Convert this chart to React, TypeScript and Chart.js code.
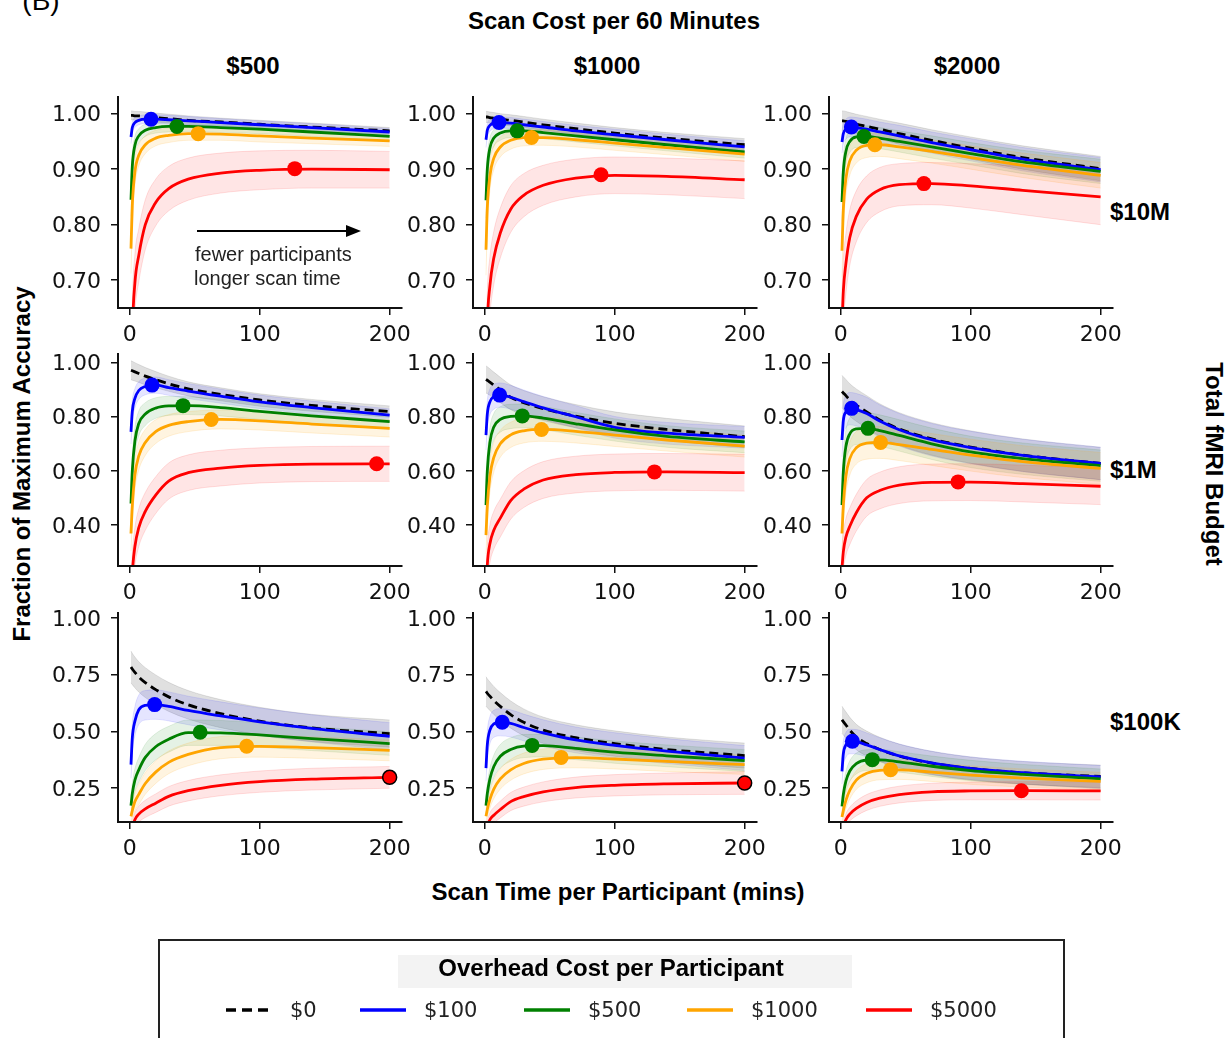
import React, { useEffect, useRef } from "react";
import { Chart, registerables } from "chart.js";

Chart.register(...registerables);

// ---------------- data ----------------
const SCAN_TIMES = [1, 2, 4, 7, 12, 20, 30, 45, 70, 100, 140, 200];
const X_TICKS = [0, 100, 200];
const SCAN_COSTS = ["$500", "$1000", "$2000"];
const BUDGETS = ["$10M", "$1M", "$100K"];
const OVERHEADS = ["$0", "$100", "$500", "$1000", "$5000"];
const Y_TICKS_10M = [0.7, 0.8, 0.9, 1.0];
const Y_TICKS_1M = [0.4, 0.6, 0.8, 1.0];
const Y_TICKS_100K = [0.25, 0.5, 0.75, 1.0];

// rows of each table: overhead $0, $100, $500, $1000, $5000 (values at SCAN_TIMES)
const ACC_10M_500 = [
  [0.997, 0.997, 0.996, 0.996, 0.995, 0.993, 0.991, 0.988, 0.985, 0.981, 0.976, 0.969],
  [0.958, 0.975, 0.984, 0.988, 0.990, 0.990, 0.989, 0.987, 0.984, 0.980, 0.975, 0.967],
  [0.845, 0.905, 0.943, 0.960, 0.970, 0.975, 0.977, 0.977, 0.975, 0.972, 0.967, 0.959],
  [0.757, 0.835, 0.895, 0.925, 0.944, 0.956, 0.961, 0.964, 0.963, 0.960, 0.956, 0.951],
  [0.450, 0.600, 0.695, 0.745, 0.800, 0.840, 0.865, 0.882, 0.893, 0.898, 0.900, 0.899],
];
const ACC_10M_1000 = [
  [0.994, 0.994, 0.993, 0.992, 0.990, 0.988, 0.985, 0.980, 0.973, 0.965, 0.956, 0.944],
  [0.953, 0.970, 0.979, 0.983, 0.984, 0.983, 0.980, 0.976, 0.969, 0.962, 0.953, 0.940],
  [0.844, 0.900, 0.938, 0.956, 0.965, 0.969, 0.969, 0.966, 0.960, 0.953, 0.944, 0.931],
  [0.755, 0.830, 0.888, 0.920, 0.940, 0.952, 0.957, 0.957, 0.953, 0.947, 0.939, 0.927],
  [0.500, 0.620, 0.690, 0.740, 0.785, 0.828, 0.853, 0.871, 0.884, 0.889, 0.887, 0.881],
];
const ACC_10M_2000 = [
  [0.987, 0.987, 0.986, 0.984, 0.981, 0.977, 0.972, 0.964, 0.952, 0.938, 0.921, 0.901],
  [0.949, 0.964, 0.972, 0.976, 0.975, 0.972, 0.967, 0.960, 0.948, 0.935, 0.918, 0.899],
  [0.841, 0.895, 0.932, 0.950, 0.958, 0.959, 0.956, 0.950, 0.940, 0.928, 0.913, 0.896],
  [0.753, 0.826, 0.883, 0.915, 0.934, 0.943, 0.944, 0.940, 0.932, 0.921, 0.907, 0.889],
  [0.620, 0.680, 0.730, 0.777, 0.815, 0.846, 0.863, 0.872, 0.874, 0.870, 0.862, 0.850],
];
const ACC_1M_500 = [
  [0.972, 0.970, 0.966, 0.960, 0.950, 0.937, 0.922, 0.903, 0.883, 0.862, 0.842, 0.819],
  [0.744, 0.820, 0.868, 0.897, 0.912, 0.917, 0.908, 0.895, 0.876, 0.855, 0.834, 0.806],
  [0.479, 0.600, 0.710, 0.775, 0.810, 0.832, 0.840, 0.841, 0.834, 0.820, 0.803, 0.782],
  [0.368, 0.470, 0.585, 0.655, 0.705, 0.745, 0.768, 0.782, 0.790, 0.785, 0.773, 0.757],
  [0.100, 0.220, 0.320, 0.390, 0.450, 0.510, 0.562, 0.593, 0.610, 0.620, 0.625, 0.626],
];
const ACC_1M_1000 = [
  [0.938, 0.935, 0.928, 0.917, 0.899, 0.872, 0.852, 0.830, 0.802, 0.776, 0.753, 0.726],
  [0.732, 0.810, 0.855, 0.874, 0.880, 0.872, 0.856, 0.833, 0.800, 0.761, 0.739, 0.724],
  [0.473, 0.600, 0.705, 0.762, 0.790, 0.801, 0.803, 0.795, 0.774, 0.751, 0.727, 0.707],
  [0.362, 0.470, 0.580, 0.650, 0.700, 0.733, 0.748, 0.753, 0.746, 0.732, 0.714, 0.691],
  [0.120, 0.250, 0.330, 0.380, 0.425, 0.490, 0.532, 0.566, 0.586, 0.594, 0.596, 0.593],
];
const ACC_1M_2000 = [
  [0.893, 0.888, 0.878, 0.862, 0.843, 0.818, 0.788, 0.755, 0.718, 0.688, 0.658, 0.627],
  [0.714, 0.785, 0.818, 0.830, 0.826, 0.812, 0.784, 0.752, 0.715, 0.686, 0.657, 0.627],
  [0.473, 0.595, 0.690, 0.737, 0.755, 0.757, 0.749, 0.731, 0.700, 0.670, 0.645, 0.619],
  [0.368, 0.470, 0.580, 0.645, 0.685, 0.702, 0.705, 0.697, 0.679, 0.658, 0.634, 0.609],
  [0.240, 0.300, 0.355, 0.395, 0.445, 0.500, 0.527, 0.547, 0.557, 0.558, 0.553, 0.543],
];
const ACC_100K_500 = [
  [0.784, 0.775, 0.760, 0.740, 0.715, 0.684, 0.652, 0.617, 0.578, 0.545, 0.515, 0.490],
  [0.353, 0.470, 0.545, 0.595, 0.615, 0.618, 0.610, 0.592, 0.568, 0.542, 0.513, 0.478],
  [0.172, 0.225, 0.285, 0.330, 0.385, 0.432, 0.465, 0.494, 0.493, 0.484, 0.468, 0.446],
  [0.125, 0.150, 0.190, 0.222, 0.270, 0.320, 0.363, 0.398, 0.428, 0.434, 0.428, 0.416],
  [0.020, 0.070, 0.110, 0.135, 0.158, 0.183, 0.213, 0.238, 0.262, 0.278, 0.289, 0.297],
];
const ACC_100K_1000 = [
  [0.676, 0.668, 0.655, 0.636, 0.610, 0.574, 0.540, 0.505, 0.472, 0.446, 0.420, 0.393],
  [0.338, 0.440, 0.505, 0.533, 0.540, 0.535, 0.517, 0.493, 0.462, 0.438, 0.413, 0.382],
  [0.172, 0.225, 0.290, 0.345, 0.390, 0.420, 0.435, 0.437, 0.425, 0.408, 0.392, 0.371],
  [0.125, 0.155, 0.200, 0.245, 0.290, 0.330, 0.358, 0.377, 0.384, 0.378, 0.367, 0.353],
  [0.030, 0.075, 0.110, 0.130, 0.155, 0.190, 0.212, 0.233, 0.252, 0.262, 0.268, 0.272],
];
const ACC_100K_2000 = [
  [0.551, 0.543, 0.528, 0.505, 0.475, 0.446, 0.420, 0.391, 0.360, 0.336, 0.317, 0.301],
  [0.323, 0.400, 0.440, 0.455, 0.454, 0.440, 0.420, 0.392, 0.361, 0.337, 0.318, 0.299],
  [0.169, 0.220, 0.280, 0.325, 0.358, 0.373, 0.374, 0.365, 0.346, 0.327, 0.310, 0.290],
  [0.122, 0.150, 0.195, 0.240, 0.285, 0.315, 0.328, 0.330, 0.320, 0.307, 0.294, 0.279],
  [0.030, 0.075, 0.110, 0.135, 0.160, 0.186, 0.205, 0.221, 0.233, 0.237, 0.238, 0.237],
];

// half-widths of the shaded bands (same layout as the ACC tables)
const BAND_10M_500 = [
  [0.008, 0.008, 0.008, 0.008, 0.008, 0.008, 0.008, 0.008, 0.007, 0.007, 0.007, 0.006],
  [0.012, 0.010, 0.009, 0.008, 0.008, 0.008, 0.008, 0.008, 0.007, 0.007, 0.007, 0.006],
  [0.030, 0.022, 0.016, 0.013, 0.011, 0.010, 0.010, 0.009, 0.009, 0.008, 0.008, 0.008],
  [0.045, 0.034, 0.024, 0.019, 0.016, 0.014, 0.013, 0.012, 0.011, 0.011, 0.010, 0.010],
  [0.060, 0.056, 0.052, 0.048, 0.045, 0.042, 0.040, 0.038, 0.036, 0.035, 0.034, 0.033],
];
const BAND_10M_1000 = [
  [0.010, 0.010, 0.010, 0.010, 0.010, 0.010, 0.010, 0.010, 0.010, 0.010, 0.010, 0.011],
  [0.014, 0.012, 0.011, 0.010, 0.010, 0.010, 0.010, 0.010, 0.010, 0.010, 0.010, 0.011],
  [0.032, 0.024, 0.018, 0.015, 0.013, 0.012, 0.012, 0.011, 0.011, 0.011, 0.011, 0.011],
  [0.046, 0.036, 0.026, 0.021, 0.018, 0.016, 0.015, 0.014, 0.013, 0.013, 0.013, 0.013],
  [0.060, 0.056, 0.052, 0.048, 0.045, 0.042, 0.039, 0.036, 0.034, 0.033, 0.033, 0.034],
];
const BAND_10M_2000 = [
  [0.018, 0.018, 0.018, 0.018, 0.018, 0.018, 0.018, 0.019, 0.019, 0.020, 0.021, 0.022],
  [0.020, 0.019, 0.018, 0.018, 0.018, 0.018, 0.018, 0.019, 0.019, 0.020, 0.021, 0.022],
  [0.035, 0.028, 0.022, 0.020, 0.019, 0.019, 0.019, 0.019, 0.020, 0.020, 0.021, 0.022],
  [0.048, 0.038, 0.030, 0.026, 0.023, 0.022, 0.021, 0.021, 0.021, 0.021, 0.022, 0.023],
  [0.062, 0.058, 0.054, 0.050, 0.046, 0.042, 0.040, 0.038, 0.038, 0.040, 0.044, 0.050],
];
const BAND_1M_500 = [
  [0.035, 0.035, 0.034, 0.033, 0.032, 0.030, 0.028, 0.026, 0.024, 0.023, 0.022, 0.021],
  [0.045, 0.040, 0.036, 0.033, 0.031, 0.030, 0.029, 0.028, 0.026, 0.025, 0.024, 0.023],
  [0.060, 0.055, 0.050, 0.046, 0.042, 0.038, 0.035, 0.033, 0.031, 0.030, 0.029, 0.028],
  [0.065, 0.060, 0.055, 0.052, 0.048, 0.044, 0.040, 0.037, 0.035, 0.034, 0.033, 0.032],
  [0.070, 0.070, 0.070, 0.070, 0.070, 0.068, 0.067, 0.066, 0.066, 0.065, 0.065, 0.065],
];
const BAND_1M_1000 = [
  [0.050, 0.050, 0.049, 0.048, 0.047, 0.046, 0.045, 0.044, 0.043, 0.042, 0.041, 0.040],
  [0.055, 0.050, 0.048, 0.046, 0.045, 0.044, 0.043, 0.042, 0.041, 0.040, 0.040, 0.040],
  [0.065, 0.060, 0.055, 0.050, 0.047, 0.045, 0.044, 0.043, 0.042, 0.041, 0.040, 0.040],
  [0.070, 0.065, 0.060, 0.055, 0.050, 0.047, 0.045, 0.044, 0.043, 0.042, 0.041, 0.040],
  [0.070, 0.070, 0.070, 0.070, 0.070, 0.069, 0.068, 0.068, 0.068, 0.068, 0.068, 0.068],
];
const BAND_1M_2000 = [
  [0.060, 0.060, 0.060, 0.060, 0.060, 0.060, 0.060, 0.060, 0.060, 0.060, 0.060, 0.060],
  [0.062, 0.060, 0.060, 0.060, 0.060, 0.060, 0.060, 0.060, 0.060, 0.060, 0.060, 0.060],
  [0.066, 0.063, 0.060, 0.059, 0.058, 0.058, 0.058, 0.058, 0.058, 0.058, 0.058, 0.058],
  [0.068, 0.066, 0.063, 0.061, 0.060, 0.059, 0.059, 0.059, 0.059, 0.059, 0.059, 0.059],
  [0.068, 0.068, 0.068, 0.068, 0.068, 0.068, 0.068, 0.068, 0.068, 0.068, 0.068, 0.068],
];
const BAND_100K_500 = [
  [0.070, 0.069, 0.068, 0.067, 0.066, 0.065, 0.064, 0.063, 0.062, 0.061, 0.060, 0.060],
  [0.060, 0.062, 0.064, 0.065, 0.065, 0.065, 0.064, 0.063, 0.062, 0.061, 0.060, 0.060],
  [0.040, 0.045, 0.050, 0.055, 0.058, 0.058, 0.057, 0.056, 0.055, 0.054, 0.053, 0.052],
  [0.030, 0.035, 0.040, 0.045, 0.048, 0.050, 0.050, 0.050, 0.049, 0.048, 0.047, 0.046],
  [0.020, 0.025, 0.030, 0.035, 0.038, 0.041, 0.043, 0.045, 0.046, 0.047, 0.048, 0.048],
];
const BAND_100K_1000 = [
  [0.065, 0.064, 0.063, 0.062, 0.061, 0.060, 0.059, 0.058, 0.057, 0.056, 0.055, 0.055],
  [0.058, 0.060, 0.060, 0.060, 0.060, 0.060, 0.059, 0.058, 0.057, 0.056, 0.055, 0.055],
  [0.040, 0.044, 0.048, 0.050, 0.052, 0.052, 0.051, 0.050, 0.050, 0.049, 0.048, 0.048],
  [0.030, 0.034, 0.038, 0.042, 0.045, 0.046, 0.046, 0.045, 0.045, 0.044, 0.044, 0.043],
  [0.020, 0.025, 0.030, 0.034, 0.037, 0.040, 0.042, 0.044, 0.046, 0.047, 0.048, 0.050],
];
const BAND_100K_2000 = [
  [0.060, 0.059, 0.058, 0.057, 0.056, 0.055, 0.054, 0.053, 0.052, 0.051, 0.050, 0.050],
  [0.055, 0.055, 0.055, 0.054, 0.054, 0.053, 0.052, 0.052, 0.051, 0.050, 0.050, 0.050],
  [0.035, 0.040, 0.043, 0.045, 0.046, 0.046, 0.046, 0.045, 0.045, 0.045, 0.044, 0.044],
  [0.028, 0.032, 0.036, 0.039, 0.041, 0.042, 0.042, 0.042, 0.041, 0.041, 0.040, 0.040],
  [0.018, 0.022, 0.026, 0.030, 0.033, 0.035, 0.036, 0.037, 0.038, 0.039, 0.040, 0.040],
];

// optimal scan time [minutes, accuracy] for overhead $100, $500, $1000, $5000
const OPT_10M_500 = [[16.4, 0.990], [36.3, 0.977], [52.7, 0.964], [127, 0.901]];
const OPT_10M_1000 = [[11, 0.984], [25, 0.969], [36, 0.957], [89.5, 0.89]];
const OPT_10M_2000 = [[8.2, 0.976], [17.9, 0.959], [26.3, 0.944], [64, 0.874]];
const OPT_1M_500 = [[17.2, 0.917], [41, 0.841], [62.7, 0.79], [190, 0.626]];
const OPT_1M_1000 = [[11.5, 0.88], [28.9, 0.803], [43.7, 0.753], [130.6, 0.596]];
const OPT_1M_2000 = [[8.4, 0.831], [21, 0.757], [30.7, 0.705], [90.3, 0.559]];
const OPT_100K_500 = [[19.2, 0.618], [54.2, 0.496], [90, 0.434], [200, 0.297]];
const OPT_100K_1000 = [[13.5, 0.54], [36.5, 0.438], [58.8, 0.385], [200, 0.272]];
const OPT_100K_2000 = [[9, 0.456], [24.3, 0.375], [38.4, 0.331], [139, 0.238]];

const ACC = [
  [ACC_10M_500, ACC_10M_1000, ACC_10M_2000],
  [ACC_1M_500, ACC_1M_1000, ACC_1M_2000],
  [ACC_100K_500, ACC_100K_1000, ACC_100K_2000],
];
const BAND = [
  [BAND_10M_500, BAND_10M_1000, BAND_10M_2000],
  [BAND_1M_500, BAND_1M_1000, BAND_1M_2000],
  [BAND_100K_500, BAND_100K_1000, BAND_100K_2000],
];
const OPT = [
  [OPT_10M_500, OPT_10M_1000, OPT_10M_2000],
  [OPT_1M_500, OPT_1M_1000, OPT_1M_2000],
  [OPT_100K_500, OPT_100K_1000, OPT_100K_2000],
];
const Y_TICKS = [Y_TICKS_10M, Y_TICKS_1M, Y_TICKS_100K];

// ---------------- layout & style ----------------
const Y_RANGE = [
  [0.65, 1.03],
  [0.248, 1.032],
  [0.1, 1.022],
];
const X_RANGE = [-9, 209.5];
const COL_LEFT = [118, 473, 829];
const ROW_TOP = [97, 354, 613];
const ROW_H = [211, 212, 209];
const PLOT_W = 284;
const PAD_LEFT = 80;
const PAD_TOP = 30;
const PAD_RIGHT = 30;
const X_AXIS_H = 50;

const LINE_COLORS = ["#000000", "#0000ff", "#008000", "#ffa500", "#ff0000"];
const BAND_FILL = [
  "rgba(0,0,0,0.12)",
  "rgba(0,0,255,0.10)",
  "rgba(0,128,0,0.10)",
  "rgba(255,165,0,0.12)",
  "rgba(255,0,0,0.10)",
];
const BAND_EDGE = [
  "rgba(0,0,0,0.10)",
  "rgba(0,0,255,0.10)",
  "rgba(0,128,0,0.10)",
  "rgba(255,165,0,0.14)",
  "rgba(255,0,0,0.12)",
];
const BOLD = '"Liberation Sans", Arial, sans-serif';
const TICK_FONT = "DejaVu Sans";

function Panel({ row, col }: { row: number; col: number }) {
  const ref = useRef<HTMLCanvasElement>(null);
  const w = PAD_LEFT + PLOT_W + PAD_RIGHT;
  const h = PAD_TOP + ROW_H[row] + X_AXIS_H;

  useEffect(() => {
    if (!ref.current) return;
    const acc = ACC[row][col];
    const band = BAND[row][col];
    const opt = OPT[row][col];
    const maxT = SCAN_TIMES[SCAN_TIMES.length - 1];
    const pts = (vals: number[], off: number[] | null, sign: number) =>
      SCAN_TIMES.map((t, i) => ({ x: t, y: vals[i] + (off ? sign * off[i] : 0) }));

    const datasets: any[] = [];
    acc.forEach((vals, s) => {
      datasets.push({
        data: pts(vals, band[s], -1),
        borderColor: BAND_EDGE[s],
        borderWidth: 1,
        pointRadius: 0,
        fill: false,
        order: 40 - s,
        cubicInterpolationMode: "monotone",
      });
      datasets.push({
        data: pts(vals, band[s], 1),
        borderColor: BAND_EDGE[s],
        borderWidth: 1,
        pointRadius: 0,
        fill: "-1",
        backgroundColor: BAND_FILL[s],
        order: 40 - s,
        cubicInterpolationMode: "monotone",
      });
    });
    acc.forEach((vals, s) => {
      datasets.push({
        data: pts(vals, null, 0),
        borderColor: LINE_COLORS[s],
        borderWidth: 2.8,
        borderDash: s === 0 ? [9, 5] : [],
        borderCapStyle: "butt",
        pointRadius: 0,
        fill: false,
        order: 20 - s,
        cubicInterpolationMode: "monotone",
      });
    });
    opt.forEach(([t, v], k) => {
      const s = k + 1;
      const edge = t >= maxT;
      datasets.push({
        data: [{ x: t, y: v }],
        showLine: false,
        pointRadius: edge ? 7 : 7.5,
        pointBackgroundColor: LINE_COLORS[s],
        pointBorderColor: edge ? "#000" : LINE_COLORS[s],
        pointBorderWidth: edge ? 1.5 : 0,
        order: 5 - k,
      });
    });

    const axisCommon = {
      type: "linear",
      grid: {
        drawOnChartArea: false,
        drawTicks: true,
        tickLength: 7,
        color: "#111",
        lineWidth: 1.5,
      },
      border: { display: true, color: "#111", width: 2, z: 1 },
    };

    const chart = new Chart(ref.current, {
      type: "line",
      data: { datasets },
      options: {
        animation: false,
        responsive: false,
        maintainAspectRatio: false,
        layout: { padding: { top: PAD_TOP, right: PAD_RIGHT, left: 0, bottom: 0 } },
        plugins: { legend: { display: false }, tooltip: { enabled: false } },
        elements: { line: { tension: 0 } },
        scales: {
          x: {
            ...axisCommon,
            min: X_RANGE[0],
            max: X_RANGE[1],
            afterBuildTicks: (s: any) => {
              s.ticks = X_TICKS.map((v) => ({ value: v }));
            },
            afterFit: (s: any) => {
              s.height = X_AXIS_H;
            },
            ticks: {
              font: { family: TICK_FONT, size: 22 },
              color: "#111",
              padding: 7,
              maxRotation: 0,
              autoSkip: false,
              callback: (v: any) => String(v),
            },
          },
          y: {
            ...axisCommon,
            min: Y_RANGE[row][0],
            max: Y_RANGE[row][1],
            afterBuildTicks: (s: any) => {
              s.ticks = Y_TICKS[row].map((v) => ({ value: v }));
            },
            afterFit: (s: any) => {
              s.width = PAD_LEFT;
            },
            ticks: {
              font: { family: TICK_FONT, size: 22 },
              color: "#111",
              padding: 10,
              labelOffset: 2,
              autoSkip: false,
              callback: (v: any) => Number(v).toFixed(2),
            },
          },
        },
      } as any,
    } as any);
    return () => chart.destroy();
  }, [row, col]);

  return (
    <canvas
      ref={ref}
      width={w}
      height={h}
      style={{
        position: "absolute",
        left: COL_LEFT[col] - PAD_LEFT,
        top: ROW_TOP[row] - PAD_TOP,
        width: w,
        height: h,
      }}
    />
  );
}

function Label(props: {
  x: number;
  y: number;
  children: React.ReactNode;
  size?: number;
  bold?: boolean;
  family?: string;
  rotate?: number;
  align?: "center" | "left";
  color?: string;
}) {
  const { x, y, children, size = 24, bold = true, family = BOLD, rotate = 0, align = "center", color = "#000" } = props;
  const tx = align === "center" ? "-50%" : "0";
  return (
    <div
      style={{
        position: "absolute",
        left: x,
        top: y,
        transform: `translate(${tx},-50%) rotate(${rotate}deg)`,
        transformOrigin: align === "center" ? "50% 50%" : "0 50%",
        fontFamily: family,
        fontSize: size,
        fontWeight: bold ? 700 : 400,
        lineHeight: 1,
        whiteSpace: "nowrap",
        color,
      }}
    >
      {children}
    </div>
  );
}

const COL_TITLE_X = [253, 607, 967];
const ROW_LABEL_Y = [212, 470, 722];
const LEGEND_SWATCH_X = [226, 360, 524, 687, 866];

export default function App() {
  const cells: React.ReactNode[] = [];
  for (let r = 0; r < 3; r++) for (let c = 0; c < 3; c++) cells.push(<Panel key={`${r}-${c}`} row={r} col={c} />);

  return (
    <div
      style={{
        position: "absolute",
        left: 0,
        top: 0,
        width: 1228,
        height: 1038,
        overflow: "hidden",
        background: "#fff",
      }}
    >
      <Label x={41} y={1} size={28} bold={false}>(B)</Label>
      <Label x={614} y={21}>Scan Cost per 60 Minutes</Label>
      {SCAN_COSTS.map((t, i) => (
        <Label key={t} x={COL_TITLE_X[i]} y={66}>{t}</Label>
      ))}
      {BUDGETS.map((t, i) => (
        <Label key={t} x={1110} y={ROW_LABEL_Y[i]} align="left">{t}</Label>
      ))}
      <Label x={1214} y={464} rotate={90}>Total fMRI Budget</Label>
      <Label x={22} y={464} rotate={-90}>Fraction of Maximum Accuracy</Label>
      <Label x={618} y={892}>Scan Time per Participant (mins)</Label>

      {cells}

      {/* annotation in the $10M / $500 panel */}
      <svg style={{ position: "absolute", left: 0, top: 0 }} width={1228} height={1038}>
        <line x1={197} y1={231} x2={348} y2={231} stroke="#000" strokeWidth={2} />
        <polygon points="346,225 361,231 346,237" fill="#000" />
      </svg>
      <Label x={195} y={254} size={20} bold={false} align="left" color="#222">fewer participants</Label>
      <Label x={194} y={278} size={20} bold={false} align="left" color="#222">longer scan time</Label>

      {/* legend */}
      <div
        style={{
          position: "absolute",
          left: 158,
          top: 939,
          width: 907,
          height: 140,
          border: "2px solid #222",
          boxSizing: "border-box",
        }}
      />
      <div style={{ position: "absolute", left: 398, top: 955, width: 454, height: 33, background: "#f3f3f3" }} />
      <Label x={611} y={968}>Overhead Cost per Participant</Label>
      <svg style={{ position: "absolute", left: 0, top: 0 }} width={1228} height={1038}>
        {OVERHEADS.map((o, i) => (
          <line
            key={o}
            x1={LEGEND_SWATCH_X[i]}
            y1={1010}
            x2={LEGEND_SWATCH_X[i] + 46}
            y2={1010}
            stroke={LINE_COLORS[i]}
            strokeWidth={3.5}
            strokeDasharray={i === 0 ? "10 6" : undefined}
          />
        ))}
      </svg>
      {OVERHEADS.map((o, i) => (
        <Label key={o} x={LEGEND_SWATCH_X[i] + 64} y={1010} size={21} bold={false} family={TICK_FONT} align="left" color="#222">
          {o}
        </Label>
      ))}
    </div>
  );
}
